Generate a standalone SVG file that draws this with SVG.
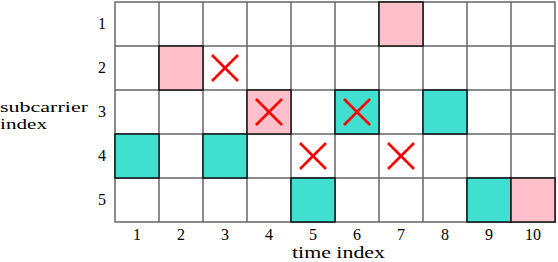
<svg xmlns="http://www.w3.org/2000/svg" width="558" height="262" viewBox="0 0 558 262">
<style>
.n{text-anchor:middle}
.g{fill:#fff;stroke:#666;stroke-width:1.5}
.p{fill:#FFC0CB;stroke:#111;stroke-width:1.5}
.t{fill:#40E0D0;stroke:#111;stroke-width:1.5}
.x{stroke:#f00;stroke-width:2.6;fill:none}
</style>
<defs>
<path id="cross" class="x" d="M-13,-13L13,13M13,-13L-13,13"/>
</defs>
<g id="grid">
<rect class="g" x="115" y="2" width="440" height="220"/>
<path d="M159,2V222M203,2V222M247,2V222M291,2V222M335,2V222M379,2V222M423,2V222M467,2V222M511,2V222M115,46H555M115,90H555M115,134H555M115,178H555" stroke="#666" stroke-width="1.5" fill="none"/>
</g>
<g id="cells">
<rect class="p" x="379" y="2" width="44" height="44"/>
<rect class="p" x="159" y="46" width="44" height="44"/>
<rect class="p" x="247" y="90" width="44" height="44"/>
<rect class="t" x="335" y="90" width="44" height="44"/>
<rect class="t" x="423" y="90" width="44" height="44"/>
<rect class="t" x="115" y="134" width="44" height="44"/>
<rect class="t" x="203" y="134" width="44" height="44"/>
<rect class="t" x="291" y="178" width="44" height="44"/>
<rect class="t" x="467" y="178" width="44" height="44"/>
<rect class="p" x="511" y="178" width="44" height="44"/>
</g>
<g id="crosses">
<use href="#cross" x="225" y="68"/>
<use href="#cross" x="269" y="112"/>
<use href="#cross" x="357" y="112"/>
<use href="#cross" x="313" y="156"/>
<use href="#cross" x="401" y="156"/>
</g>
<g id="labels" font-family="'Liberation Serif', 'Times New Roman', serif" font-size="16" fill="#000">
<g id="row-labels">
<text class="n" x="102" y="29">1</text>
<text class="n" x="102" y="73">2</text>
<text class="n" x="102" y="117">3</text>
<text class="n" x="102" y="161">4</text>
<text class="n" x="102" y="205">5</text>
<text x="0" y="112" font-size="15" textLength="88" lengthAdjust="spacingAndGlyphs">subcarrier</text>
<text x="0" y="129" font-size="15" textLength="47" lengthAdjust="spacingAndGlyphs">index</text>
</g>
<g id="col-labels">
<text class="n" x="137" y="240">1</text>
<text class="n" x="181" y="240">2</text>
<text class="n" x="225" y="240">3</text>
<text class="n" x="269" y="240">4</text>
<text class="n" x="313" y="240">5</text>
<text class="n" x="357" y="240">6</text>
<text class="n" x="401" y="240">7</text>
<text class="n" x="445" y="240">8</text>
<text class="n" x="489" y="240">9</text>
<text class="n" x="533" y="240">10</text>
<text x="292" y="258" textLength="93" lengthAdjust="spacingAndGlyphs">time index</text>
</g>
</g>
</svg>
